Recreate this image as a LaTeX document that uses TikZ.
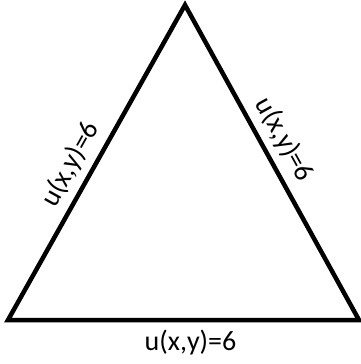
\documentclass[tikz,border=0pt]{standalone}
\usepackage{fontspec}
\setmainfont{Carlito}
\usetikzlibrary{positioning}

\begin{document}
\begin{tikzpicture}[
    x=1pt, y=-1pt,
    every node/.style={font=\fontsize{28}{30}\selectfont},
    triedge/.style={line width=4.5pt, black, line join=miter},
    edgelabel/.style={sloped, inner sep=9pt},
]
\useasboundingbox (0,0) rectangle (361,364);

\coordinate (left) at (8,320);
\coordinate (top) at (185,5);
\coordinate (right) at (359,320);

\draw[triedge] (left) -- (top) -- (right) -- cycle;

% Boundary values
\path (left) -- (top) node[edgelabel, above, pos=0.46] (lbl1) {u(x,y)=6};
\path (top) -- (right) node[edgelabel, above, pos=0.46] (lbl2) {u(x,y)=6};
\path (left) -- (right) node[below, pos=0.52, inner sep=10pt] (lbl3) {u(x,y)=6};

\end{tikzpicture}
\end{document}
